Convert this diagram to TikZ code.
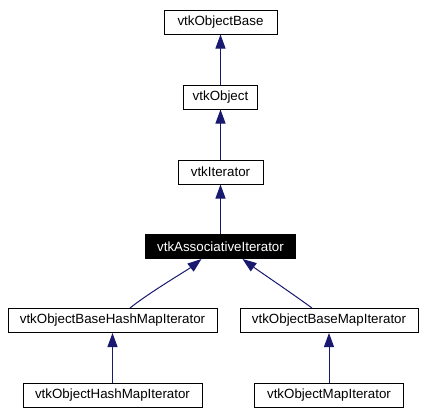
\documentclass[tikz,border=0pt]{standalone}
\usepackage{fontspec}
\setmainfont{Liberation Sans}
\usetikzlibrary{calc,arrows.meta}
\definecolor{edgeblue}{HTML}{191970}
\begin{document}
\begin{tikzpicture}[x=0.75pt,y=-0.75pt,
  cls/.style={draw,line width=0.75pt,inner sep=0pt,minimum height=18pt,font=\fontsize{10}{12}\selectfont},
  cur/.style={cls,fill=black,text=white},
  inh/.style={edgeblue,line width=0.75pt,-{Triangle[length=10.5pt,width=7.5pt]}}]
\useasboundingbox (0,0) rectangle (426,415);
\node[cls,minimum width=84.75pt] (base) at (220.5,22) {vtkObjectBase};
\node[cls,minimum width=55.5pt] (object) at (220.5,97) {vtkObject};
\node[cls,minimum width=63.75pt] (iterator) at (220.5,172) {vtkIterator};
\node[cur,minimum width=112.5pt] (assoc) at (220.5,246.5) {vtkAssociativeIterator};
\node[cls,minimum width=156.75pt] (bhash) at (112.5,320.5) {vtkObjectBaseHashMapIterator};
\node[cls,minimum width=133.5pt] (bmap) at (329,320.5) {vtkObjectBaseMapIterator};
\node[cls,minimum width=134.25pt] (hash) at (112.5,395.5) {vtkObjectHashMapIterator};
\node[cls,minimum width=111.75pt] (map) at (329,395.5) {vtkObjectMapIterator};

\draw[inh] (object) -- (base);
\draw[inh] (iterator) -- (object);
\draw[inh] (assoc) -- (iterator);
\draw[inh] ($(bhash.north)+(17.5,0)$) .. controls +(20,-16) and +(-14,11) .. ($(assoc.south)+(-19,0)$);
\draw[inh] ($(bmap.north)+(-17,0)$) .. controls +(-22,-16) and +(15,11) .. ($(assoc.south)+(22,0)$);
\draw[inh] (hash) -- (bhash);
\draw[inh] (map) -- (bmap);
\end{tikzpicture}
\end{document}
